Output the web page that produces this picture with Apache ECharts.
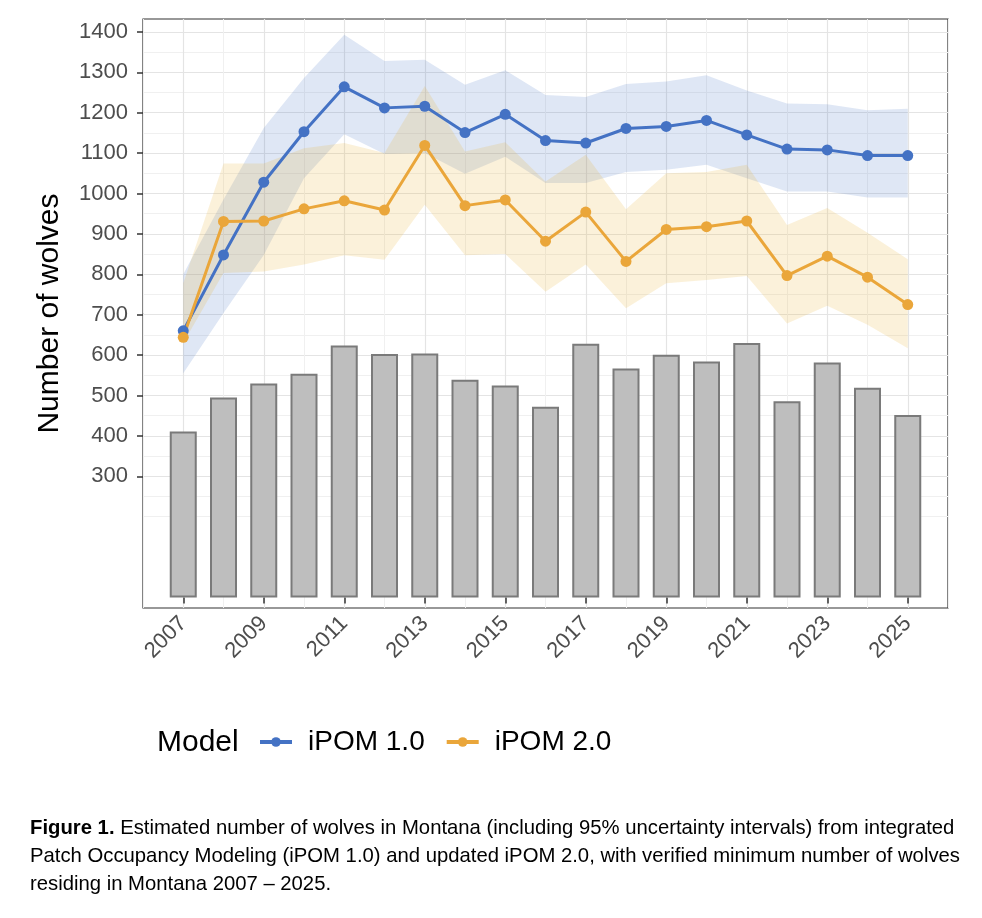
<!DOCTYPE html>
<html lang="en">
<head>
  <meta charset="UTF-8">
  <script src="https://cdn.jsdelivr.net/npm/echarts@6/dist/echarts.min.js"></script>
  <title>Montana wolves</title>
  <style>
    html, body { margin: 0; padding: 0; background: #fff; }
    #chart { width: 982px; height: 918px; }
  </style>
</head>
<body>
  <div id="chart"></div>
  <script>
    // years on the x axis
    const years = [2007, 2008, 2009, 2010, 2011, 2012, 2013, 2014, 2015, 2016,
                   2017, 2018, 2019, 2020, 2021, 2022, 2023, 2024, 2025];
    const yearLabels = [2007, 2009, 2011, 2013, 2015, 2017, 2019, 2021, 2023, 2025];

    // verified minimum count (grey bars)
    const minCount = [411, 495, 530, 554, 624, 603, 604, 539, 525, 472,
                      628, 567, 601, 584, 630, 486, 582, 519, 452];

    // iPOM 1.0 estimate and 95% interval
    const ipom1   = [660, 848, 1028, 1153, 1264, 1212, 1216, 1151, 1196, 1131,
                     1125, 1161, 1166, 1181, 1145, 1110, 1108, 1094, 1094];
    const ipom1Lo = [555, 704, 848, 1038, 1147, 1098, 1100, 1049, 1091, 1026,
                     1026, 1053, 1059, 1071, 1038, 1005, 1005, 990, 990];
    const ipom1Hi = [800, 985, 1162, 1286, 1393, 1328, 1331, 1269, 1305, 1244,
                     1239, 1271, 1277, 1293, 1255, 1223, 1221, 1206, 1210];

    // iPOM 2.0 estimate and 95% interval
    const ipom2   = [644, 931, 932, 962, 982, 959, 1119, 970, 984, 882,
                     954, 832, 911, 918, 932, 797, 845, 793, 725];
    const ipom2Lo = [630, 803, 807, 824, 847, 836, 972, 847, 850, 757,
                     824, 716, 778, 786, 796, 678, 722, 675, 617];
    const ipom2Hi = [778, 1074, 1074, 1112, 1125, 1100, 1266, 1104, 1127, 1030,
                     1096, 961, 1050, 1053, 1071, 922, 964, 903, 837];

    // y tick labels and the finer grid
    const yMajor = [300, 400, 500, 600, 700, 800, 900, 1000, 1100, 1200, 1300, 1400];
    const yMinor = [200, 250, 350, 450, 550, 650, 750, 850, 950, 1050, 1150, 1250, 1350];

    const BLUE = '#4472C4';
    const ORANGE = '#EAA63A';
    const FONT = 'Liberation Sans, Arial, sans-serif';

    const chart = echarts.init(document.getElementById('chart'));

    // ribbon drawn as one polygon through the axis scales
    function band(lo, hi, fill) {
      return {
        type: 'custom',
        silent: true,
        z: 2,
        data: [[years[0], hi[0]]],
        renderItem: function (params, api) {
          const pts = [];
          for (let i = 0; i < years.length; i++) pts.push(api.coord([years[i], hi[i]]));
          for (let i = years.length - 1; i >= 0; i--) pts.push(api.coord([years[i], lo[i]]));
          return { type: 'polygon', shape: { points: pts }, style: { fill: fill } };
        }
      };
    }

    function line(name, vals, color) {
      return {
        name: name,
        type: 'line',
        z: 4,
        data: years.map((y, i) => [y, vals[i]]),
        symbol: 'circle',
        symbolSize: 11,
        lineStyle: { color: color, width: 3 },
        itemStyle: { color: color },
        emphasis: { disabled: true }
      };
    }

    const plain = v => String(v);

    const option = {
      animation: false,
      textStyle: { fontFamily: FONT },
      grid: {
        left: 143, right: 34, top: 19, bottom: 310,
        show: true, borderColor: '#333', borderWidth: 1.2, backgroundColor: '#fff'
      },
      title: {
        left: 30, top: 814, padding: 0,
        text: '{b|Figure 1.} Estimated number of wolves in Montana (including 95% uncertainty intervals) from integrated\n' +
              'Patch Occupancy Modeling (iPOM 1.0) and updated iPOM 2.0, with verified minimum number of wolves\n' +
              'residing in Montana 2007 \u2013 2025.',
        textStyle: {
          fontFamily: FONT, fontSize: 20.3, fontWeight: 'normal', color: '#000', lineHeight: 28,
          rich: {
            b: { fontFamily: FONT, fontSize: 20.3, fontWeight: 'bold', color: '#000', lineHeight: 28 }
          }
        }
      },
      graphic: [{
        type: 'text', left: 157, top: 728,
        style: { text: 'Model', font: '30px ' + FONT, fill: '#000' }
      }],
      legend: {
        left: 258, top: 728, padding: 0,
        itemWidth: 32, itemHeight: 12, itemGap: 20,
        lineStyle: { width: 4 },
        textStyle: { fontSize: 28, color: '#000', fontFamily: FONT, padding: [0, 0, 0, 11] },
        data: ['iPOM 1.0', 'iPOM 2.0']
      },
      xAxis: [{
        type: 'value', min: 2006, max: 2026, interval: 1,
        axisLine: { show: false }, axisTick: { show: false }, axisLabel: { show: false },
        splitLine: { show: true, lineStyle: { color: '#f0f0f0', width: 1 } }
      }, {
        type: 'value', min: 2006, max: 2026, position: 'bottom', offset: 0,
        axisLine: { show: false },
        axisTick: { show: true, length: 6, customValues: yearLabels, lineStyle: { color: '#333', width: 1.5 } },
        axisLabel: {
          customValues: yearLabels, rotate: 45, margin: 12, formatter: plain,
          fontSize: 22, color: '#4d4d4d', fontFamily: FONT
        },
        splitLine: { show: true, lineStyle: { color: '#e4e4e4', width: 1.2 } }
      }],
      yAxis: [{
        type: 'value', min: -26, max: 1432,
        axisLine: { show: false }, axisLabel: { show: false },
        axisTick: { show: false, customValues: yMinor },
        splitLine: { show: true, lineStyle: { color: '#f0f0f0', width: 1 } }
      }, {
        type: 'value', min: -26, max: 1432, position: 'left', offset: 0,
        name: 'Number of wolves', nameLocation: 'middle', nameGap: 78, nameRotate: 90,
        nameTextStyle: { fontSize: 30, color: '#000', fontFamily: FONT },
        axisLine: { show: false },
        axisTick: { show: true, length: 6, customValues: yMajor, lineStyle: { color: '#333', width: 1.5 } },
        axisLabel: { customValues: yMajor, formatter: plain, fontSize: 22, color: '#4d4d4d', margin: 15, fontFamily: FONT },
        splitLine: { show: true, lineStyle: { color: '#e4e4e4', width: 1.2 } }
      }],
      series: [
        {
          name: 'Minimum count',
          type: 'bar',
          z: 1,
          barWidth: 27,
          data: years.map((y, i) => [y, minCount[i]]),
          itemStyle: { color: '#bebebe', borderColor: '#7a7a7a', borderWidth: 2 },
          emphasis: { disabled: true }
        },
        band(ipom1Lo, ipom1Hi, 'rgba(68,114,196,0.17)'),
        band(ipom2Lo, ipom2Hi, 'rgba(232,178,50,0.18)'),
        line('iPOM 1.0', ipom1, BLUE),
        line('iPOM 2.0', ipom2, ORANGE)
      ]
    };

    chart.setOption(option);
  </script>
</body>
</html>
